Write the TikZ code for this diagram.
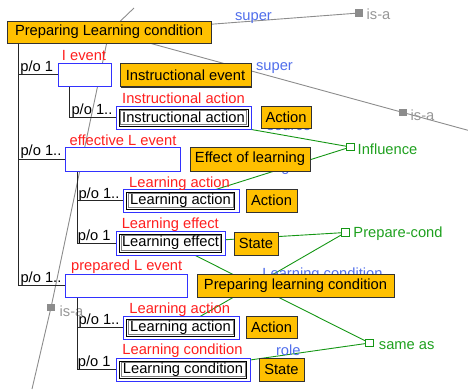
\documentclass[tikz,border=0pt]{standalone}
\usepackage{fontspec}
\setmainfont{Liberation Sans}
\usetikzlibrary{shadows}
\definecolor{orng}{RGB}{255,192,0}
\definecolor{bdr}{RGB}{50,50,50}
\definecolor{bblue}{RGB}{50,50,255}
\definecolor{lred}{RGB}{255,30,30}
\definecolor{lblue}{RGB}{80,110,235}
\definecolor{lgreen}{RGB}{30,160,30}
\definecolor{ggreen}{RGB}{20,150,20}
\definecolor{lgray}{RGB}{140,140,140}
\definecolor{tgray}{RGB}{150,150,150}
\pgfdeclarelayer{bg}
\pgfdeclarelayer{mid}
\pgfsetlayers{bg,mid,main}
\begin{document}
\begin{tikzpicture}[x=1pt,y=-1pt,font=\fontsize{14.7}{16}\selectfont,
  obox/.style={draw=bdr,line width=1pt,fill=orng,inner sep=0pt,
    drop shadow={shadow xshift=1pt,shadow yshift=-1pt,fill=bdr,opacity=1}},
  bbox/.style={draw=bblue,line width=1pt,fill=white,inner sep=0pt},
  ibox/.style={draw=black,line width=0.9pt,fill=white,inner sep=0pt,
    path picture={\draw[gray,line width=0.6pt]
      ([shift={(1.3pt,-1.3pt)}]path picture bounding box.north west) rectangle
      ([shift={(-1.3pt,1.3pt)}]path picture bounding box.south east);}},
  lbl/.style={inner sep=0pt},
  redlbl/.style={lbl,text=lred},
  bluelbl/.style={lbl,text=lblue},
  grnlbl/.style={lbl,text=lgreen},
  graylbl/.style={lbl,text=tgray},
  polbl/.style={lbl,text=black},
  gsq/.style={fill=lgray,inner sep=0pt,minimum size=7.5pt},
  grsq/.style={draw=ggreen,fill=white,line width=0.9pt,inner sep=0pt,minimum size=7.5pt},
  tree/.style={draw=black!85,line width=1pt},
  glink/.style={draw=lgray,line width=0.9pt},
  grlink/.style={draw=ggreen,line width=0.9pt}]
\useasboundingbox (0,0) rectangle (468,389);

% boxes
\node[obox,minimum width=204pt,minimum height=22pt] (top) at (109,32) {Preparing Learning condition};
\node[bbox,minimum width=53pt,minimum height=23pt] (b1) at (84.5,74.5) {};
\node[obox,minimum width=131pt,minimum height=23pt] (ie) at (185.5,75) {Instructional event};
\node[bbox,minimum width=135pt,minimum height=23pt] (ia) at (183.5,117.5) {};
\node[ibox,minimum width=129pt,minimum height=17pt] (iain) at (183.5,117.5) {Instructional action};
\node[obox,minimum width=50pt,minimum height=22pt] (act1) at (286,117) {Action};
\node[bbox,minimum width=115pt,minimum height=24pt] (b2) at (122.5,159) {};
\node[obox,minimum width=120pt,minimum height=24pt] (eol) at (250,159) {Effect of learning};
\node[bbox,minimum width=116pt,minimum height=23pt] (la1) at (181,200.5) {};
\node[ibox,minimum width=108pt,minimum height=17pt] (la1in) at (180.5,200.5) {Learning action};
\node[obox,minimum width=51pt,minimum height=23pt] (act2) at (271.5,200.5) {Action};
\node[bbox,minimum width=109pt,minimum height=24pt] (le) at (170.5,243) {};
\node[ibox,minimum width=102pt,minimum height=18pt] (lein) at (170.5,243) {Learning effect};
\node[obox,minimum width=44pt,minimum height=23pt] (st1) at (256,243.5) {State};
\node[bbox,minimum width=122pt,minimum height=23pt] (b3) at (126,285.5) {};
\node[obox,minimum width=197pt,minimum height=23pt] (plc) at (295.5,285.5) {Preparing learning condition};
\node[bbox,minimum width=116pt,minimum height=23pt] (la2) at (181,327.5) {};
\node[ibox,minimum width=108pt,minimum height=17pt] (la2in) at (180.5,327.5) {Learning action};
\node[obox,minimum width=51pt,minimum height=22pt] (act3) at (271.5,327) {Action};
\node[bbox,minimum width=134pt,minimum height=23pt] (lc) at (183,369.5) {};
\node[ibox,minimum width=127pt,minimum height=17pt] (lcin) at (183,369.5) {Learning condition};
\node[obox,minimum width=45pt,minimum height=23pt] (st2) at (281.5,369.5) {State};

% markers
\node[gsq] (isa1) at (359,13) {};
\node[gsq] (isa2) at (403,112.5) {};
\node[gsq] (isa3) at (51,307.5) {};
\node[grsq] (inf) at (350.5,147) {};
\node[grsq] (pc) at (345.5,232.5) {};
\node[grsq] (sa) at (369.5,343) {};

% free ends
\coordinate (g0end) at (134,8);
\coordinate (g2end) at (468,130.3);
\coordinate (g3end) at (32,389);

% red role labels
\node[redlbl] (r1) at (84,56) {I event};
\node[redlbl] (r2) at (183.5,98.5) {Instructional action};
\node[redlbl] (r3) at (123,140.5) {effective L event};
\node[redlbl] (r4) at (179.5,183.5) {Learning action};
\node[redlbl] (r5) at (170.3,224.5) {Learning effect};
\node[redlbl] (r6) at (126.7,266.7) {prepared L event};
\node[redlbl] (r7) at (179.7,309.7) {Learning action};
\node[redlbl] (r8) at (182.5,351) {Learning condition};

% p/o labels
\node[polbl] (po1) at (36.7,67.2) {p/o 1};
\node[polbl] (po2) at (92,111) {p/o 1..};
\node[polbl] (po3) at (41,151.7) {p/o 1..};
\node[polbl] (po4) at (99,195) {p/o 1..};
\node[polbl] (po5) at (94.3,236.2) {p/o 1};
\node[polbl] (po6) at (41,278.7) {p/o 1..};
\node[polbl] (po7) at (99,321) {p/o 1..};
\node[polbl] (po8) at (94.3,362.5) {p/o 1};

% green / gray labels
\node[graylbl] (isat1) at (378.5,14) {is-a};
\node[graylbl] (isat2) at (422.5,115.5) {is-a};
\node[graylbl] (isat3) at (71.5,311) {is-a};
\node[grnlbl] (inft) at (387.5,149) {Influence};
\node[grnlbl] (pct) at (398,234) {Prepare-cond};
\node[grnlbl] (sat) at (406.7,346) {same as};

% tree lines
\coordinate (t0) at ([xshift=12pt]top.south west);
\draw[tree] (t0) |- (b3.west);
\draw[tree] (t0 |- b1.west) -- (b1.west);
\draw[tree] (t0 |- b2.west) -- (b2.west);
\coordinate (t1) at ([xshift=12pt]b1.south west);
\draw[tree] (t1) |- (ia.west);
\coordinate (t2) at ([xshift=13pt]b2.south west);
\draw[tree] (t2) |- (le.west);
\draw[tree] (t2 |- la1.west) -- (la1.west);
\coordinate (t3) at ([xshift=13pt]b3.south west);
\draw[tree] (t3) |- (lc.west);
\draw[tree] (t3 |- la2.west) -- (la2.west);

\begin{pgfonlayer}{mid}
\node[bluelbl] (sup1) at (253.5,17.7) {super};
\node[bluelbl] (sup2) at (274.5,68) {super};
\node[bluelbl] (src) at (289,127) {source};
\node[bluelbl] (tgt) at (283,168) {target};
\node[bluelbl] (lcond) at (322.5,275) {Learning condition};
\node[bluelbl] (role) at (288.3,350) {role};
\end{pgfonlayer}

\begin{pgfonlayer}{bg}
\draw[glink] (top.center) -- (g0end);
\draw[glink] (top.center) -- (isa1.center);
\draw[glink] (top.center) -- (isa2.center) -- (g2end);
\draw[glink] (top.center) -- (isa3.center) -- (g3end);
\draw[grlink] (ia.center) -- (inf);
\draw[grlink] (la1.center) -- (inf);
\draw[grlink] (le.center) -- (pc);
\draw[grlink] (la2.center) -- (pc);
\draw[grlink] (le.center) -- (sa);
\draw[grlink] (lc.center) -- (sa);
\end{pgfonlayer}
\end{tikzpicture}
\end{document}
